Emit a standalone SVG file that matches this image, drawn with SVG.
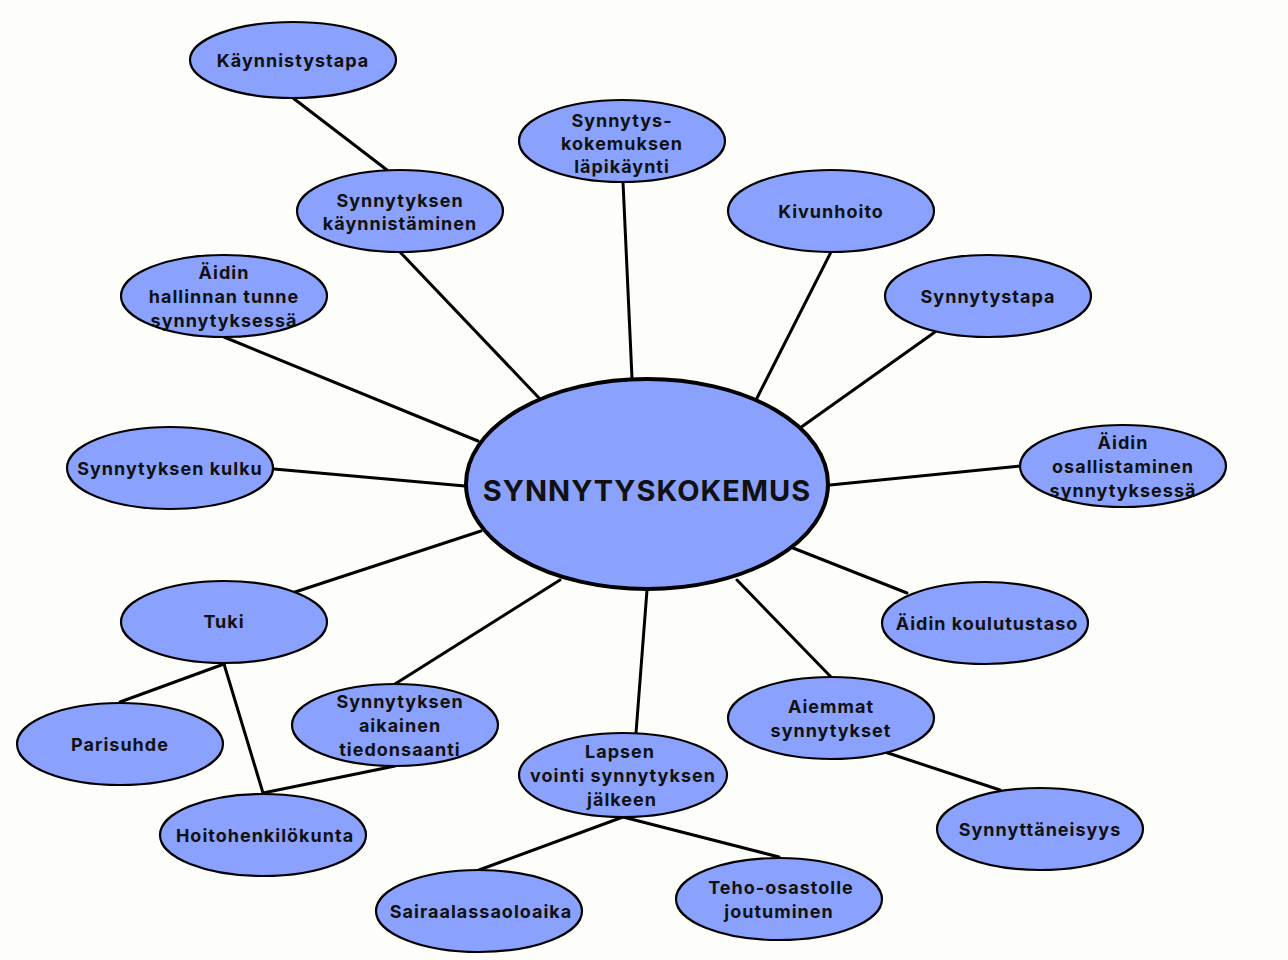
<svg xmlns="http://www.w3.org/2000/svg" width="1288" height="960" viewBox="0 0 1288 960">
<style>
.n ellipse{fill:#8aa2fd;stroke:#000;stroke-width:2.2}
.n text{font-family:Inter,"Noto Sans","Liberation Sans",sans-serif;font-weight:700;font-size:18px;letter-spacing:1px;fill:#111;text-anchor:middle;dominant-baseline:central}
#links line{stroke:#000;stroke-width:3;stroke-linecap:round}
</style>
<rect width="1288" height="960" fill="#fdfdfa"/>
<g id="links">
<line x1="293" y1="98" x2="387" y2="170"/>
<line x1="400" y1="252" x2="539" y2="398"/>
<line x1="623" y1="182" x2="632" y2="378"/>
<line x1="831" y1="252" x2="757" y2="398"/>
<line x1="935" y1="332" x2="800" y2="428"/>
<line x1="224" y1="337" x2="478" y2="441"/>
<line x1="274" y1="469" x2="465" y2="486"/>
<line x1="1020" y1="466" x2="830" y2="485"/>
<line x1="292" y1="593" x2="481" y2="531"/>
<line x1="907" y1="593" x2="793" y2="548"/>
<line x1="395" y1="684" x2="560" y2="580"/>
<line x1="636" y1="733" x2="647" y2="590"/>
<line x1="831" y1="677" x2="737" y2="580"/>
<line x1="224" y1="664" x2="120" y2="702"/>
<line x1="224" y1="664" x2="263" y2="793"/>
<line x1="263" y1="793" x2="395" y2="766"/>
<line x1="623" y1="817" x2="479" y2="870"/>
<line x1="623" y1="817" x2="779" y2="857"/>
<line x1="885" y1="752" x2="1000" y2="790"/>
</g>
<g id="center" class="n"><ellipse cx="647" cy="484" rx="181" ry="105" style="stroke-width:4"/><text x="647" y="490" style="font-size:29px">SYNNYTYSKOKEMUS</text></g>
<g id="kaynnistystapa" class="n"><ellipse cx="293" cy="60" rx="103" ry="38"/><text x="293" y="60">Käynnistystapa</text></g>
<g id="kaynnistaminen" class="n"><ellipse cx="400" cy="211" rx="103" ry="41"/><text x="400" y="200">Synnytyksen</text><text x="400" y="223">käynnistäminen</text></g>
<g id="lapikaynti" class="n"><ellipse cx="622" cy="141" rx="103" ry="41"/><text x="622" y="120">Synnytys-</text><text x="622" y="143">kokemuksen</text><text x="622" y="166">läpikäynti</text></g>
<g id="kivunhoito" class="n"><ellipse cx="831" cy="211" rx="103" ry="41"/><text x="831" y="211">Kivunhoito</text></g>
<g id="synnytystapa" class="n"><ellipse cx="988" cy="296" rx="103" ry="41"/><text x="988" y="296">Synnytystapa</text></g>
<g id="hallinnan" class="n"><ellipse cx="224" cy="296" rx="103" ry="41"/><text x="224" y="272">Äidin</text><text x="224" y="296">hallinnan tunne</text><text x="224" y="320">synnytyksessä</text></g>
<g id="kulku" class="n"><ellipse cx="170" cy="468" rx="103" ry="41"/><text x="170" y="468">Synnytyksen kulku</text></g>
<g id="osallistaminen" class="n"><ellipse cx="1123" cy="466" rx="103" ry="41"/><text x="1123" y="442">Äidin</text><text x="1123" y="466">osallistaminen</text><text x="1123" y="490">synnytyksessä</text></g>
<g id="tuki" class="n"><ellipse cx="224" cy="622" rx="103" ry="41"/><text x="224" y="621">Tuki</text></g>
<g id="koulutustaso" class="n"><ellipse cx="985" cy="623" rx="103" ry="41"/><text x="987" y="623">Äidin koulutustaso</text></g>
<g id="parisuhde" class="n"><ellipse cx="120" cy="744" rx="103" ry="41"/><text x="120" y="744">Parisuhde</text></g>
<g id="hoitohenkilokunta" class="n"><ellipse cx="263" cy="835" rx="103" ry="41"/><text x="265" y="835">Hoitohenkilökunta</text></g>
<g id="tiedonsaanti" class="n"><ellipse cx="395" cy="725" rx="103" ry="41"/><text x="400" y="701">Synnytyksen</text><text x="400" y="725">aikainen</text><text x="400" y="749">tiedonsaanti</text></g>
<g id="lapsen" class="n"><ellipse cx="623" cy="775" rx="104" ry="42"/><text x="620" y="751">Lapsen</text><text x="623" y="775">vointi synnytyksen</text><text x="622" y="799">jälkeen</text></g>
<g id="teho" class="n"><ellipse cx="779" cy="899" rx="103" ry="41"/><text x="781" y="887">Teho-osastolle</text><text x="779" y="911">joutuminen</text></g>
<g id="sairaala" class="n"><ellipse cx="479" cy="911" rx="103" ry="41"/><text x="481" y="911">Sairaalassaoloaika</text></g>
<g id="aiemmat" class="n"><ellipse cx="831" cy="718" rx="103" ry="41"/><text x="831" y="706">Aiemmat</text><text x="831" y="730">synnytykset</text></g>
<g id="synnyttaneisyys" class="n"><ellipse cx="1040" cy="829" rx="103" ry="41"/><text x="1040" y="829">Synnyttäneisyys</text></g>
</svg>
